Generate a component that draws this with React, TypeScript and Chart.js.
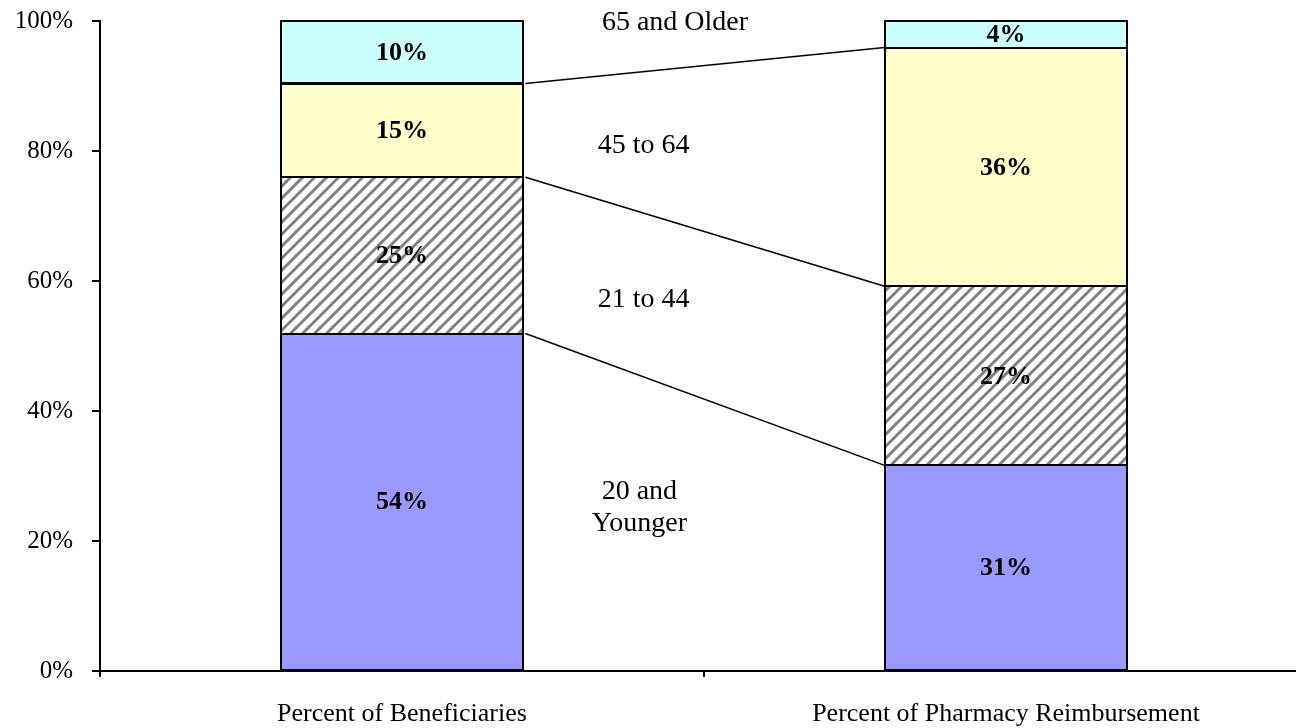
import React, { useEffect, useRef } from "react";
import { Chart, registerables } from "chart.js";

Chart.register(...registerables);

const categories = ["Percent of Beneficiaries", "Percent of Pharmacy Reimbursement"];
const seriesNames = ["20 and Younger", "21 to 44", "45 to 64", "65 and Older"];
const age20AndYounger = [54, 31];
const age21to44 = [25, 27];
const age45to64 = [15, 36];
const age65AndOlder = [10, 4];
const yTickValues = [0, 20, 40, 60, 80, 100];

const FONT = "'Times New Roman', 'Liberation Serif', serif";

function makeHatch(): CanvasPattern | string {
  const c = document.createElement("canvas");
  c.width = 12;
  c.height = 12;
  const g = c.getContext("2d");
  if (!g) return "#ccc";
  g.fillStyle = "#ffffff";
  g.fillRect(0, 0, 12, 12);
  g.strokeStyle = "#808080";
  g.lineWidth = 3;
  for (const k of [0, 12, 24]) {
    g.beginPath();
    g.moveTo(k - 14, 14);
    g.lineTo(k + 14, -14);
    g.stroke();
  }
  const p = g.createPattern(c, "repeat");
  return p || "#ccc";
}

export default function App() {
  const ref = useRef<HTMLCanvasElement | null>(null);

  useEffect(() => {
    const canvas = ref.current;
    if (!canvas) return;
    const raw = [age20AndYounger, age21to44, age45to64, age65AndOlder];
    const totals = categories.map((_, i) => raw.reduce((s, arr) => s + arr[i], 0));
    const pct = raw.map((arr) => arr.map((v, i) => (v / totals[i]) * 100));
    const fills: (string | CanvasPattern)[] = ["#9999FF", makeHatch(), "#FFFFCC", "#CCFFFF"];

    const seriesLabels = [
      { lines: ["20 and", "Younger"], x: 0.393, y: 25.1 },
      { lines: ["21 to 44"], x: 0.4, y: 57.1 },
      { lines: ["45 to 64"], x: 0.4, y: 80.8 },
      { lines: ["65 and Older"], x: 0.452, y: 99.8 },
    ];

    const overlay = {
      id: "overlay",
      afterDatasetsDraw(chart: any) {
        const ctx = chart.ctx;
        const xs = chart.scales.x;
        const ys = chart.scales.y;
        ctx.save();
        // segment outlines
        ctx.strokeStyle = "#000";
        ctx.lineWidth = 2;
        raw.forEach((_, d) => {
          const meta = chart.getDatasetMeta(d);
          meta.data.forEach((el: any) => {
            const l = Math.round(el.x - el.width / 2);
            const r = Math.round(el.x + el.width / 2);
            const t = Math.round(el.y);
            const b = Math.round(el.base);
            ctx.strokeRect(l, t, r - l, b - t);
          });
        });
        // connector lines between segment tops
        ctx.lineWidth = 1.5;
        for (let d = 0; d < 3; d++) {
          const meta = chart.getDatasetMeta(d);
          const a = meta.data[0];
          const b = meta.data[1];
          ctx.beginPath();
          ctx.moveTo(a.x + a.width / 2 + 2, a.y);
          ctx.lineTo(b.x - b.width / 2, b.y);
          ctx.stroke();
        }
        // data labels
        ctx.fillStyle = "#000";
        ctx.textAlign = "center";
        ctx.textBaseline = "middle";
        ctx.font = `bold 26px ${FONT}`;
        raw.forEach((arr, d) => {
          const meta = chart.getDatasetMeta(d);
          arr.forEach((v, i) => {
            const el = meta.data[i];
            ctx.fillText(`${v}%`, el.x, (el.y + el.base) / 2 + 1);
          });
        });
        // series labels
        ctx.font = `28px ${FONT}`;
        seriesLabels.forEach((s) => {
          const cx = xs.getPixelForValue(s.x);
          const cy = ys.getPixelForValue(s.y);
          const lh = 32;
          const n = s.lines.length;
          s.lines.forEach((t, k) => {
            ctx.fillText(t, cx, cy + (k - (n - 1) / 2) * lh);
          });
        });
        ctx.restore();
      },
    };

    const chart = new Chart(canvas, {
      type: "bar",
      data: {
        labels: categories,
        datasets: seriesNames.map((name, d) => ({
          label: name,
          data: pct[d],
          backgroundColor: fills[d] as any,
          borderWidth: 0,
          categoryPercentage: 1,
          barPercentage: 0.402,
        })),
      },
      options: {
        responsive: false,
        animation: false,
        layout: { padding: { top: 21, right: 12, left: 0, bottom: 0 } },
        plugins: { legend: { display: false }, tooltip: { enabled: false } },
        scales: {
          x: {
            stacked: true,
            grid: {
              display: true,
              offset: true,
              drawOnChartArea: false,
              drawTicks: true,
              tickLength: 6,
              color: "#000",
              lineWidth: 2,
            },
            border: { display: true, color: "#000", width: 2 },
            ticks: { color: "#000", font: { family: FONT, size: 26 }, padding: 22, maxRotation: 0 },
            afterFit(scale: any) {
              scale.height = 57;
              scale.paddingLeft = 0;
              scale.paddingRight = 0;
            },
          },
          y: {
            stacked: true,
            min: 0,
            max: 100,
            afterBuildTicks(scale: any) {
              scale.ticks = yTickValues.map((v) => ({ value: v }));
            },
            grid: {
              display: true,
              drawOnChartArea: false,
              drawTicks: true,
              tickLength: 8,
              color: "#000",
              lineWidth: 2,
            },
            border: { display: true, color: "#000", width: 2 },
            ticks: {
              color: "#000",
              font: { family: FONT, size: 25 },
              padding: 19,
              callback: (v: any) => `${v}%`,
            },
            afterFit(scale: any) {
              scale.width = 100;
              scale.paddingTop = 0;
              scale.paddingBottom = 0;
            },
          },
        },
      },
      plugins: [overlay],
    });
    return () => chart.destroy();
  }, []);

  return (
    <div
      style={{
        position: "fixed",
        left: 0,
        top: 0,
        width: 1296,
        height: 728,
        overflow: "hidden",
        background: "#fff",
      }}
    >
      <canvas ref={ref} width={1320} height={728} style={{ display: "block", width: 1320, height: 728 }} />
    </div>
  );
}
